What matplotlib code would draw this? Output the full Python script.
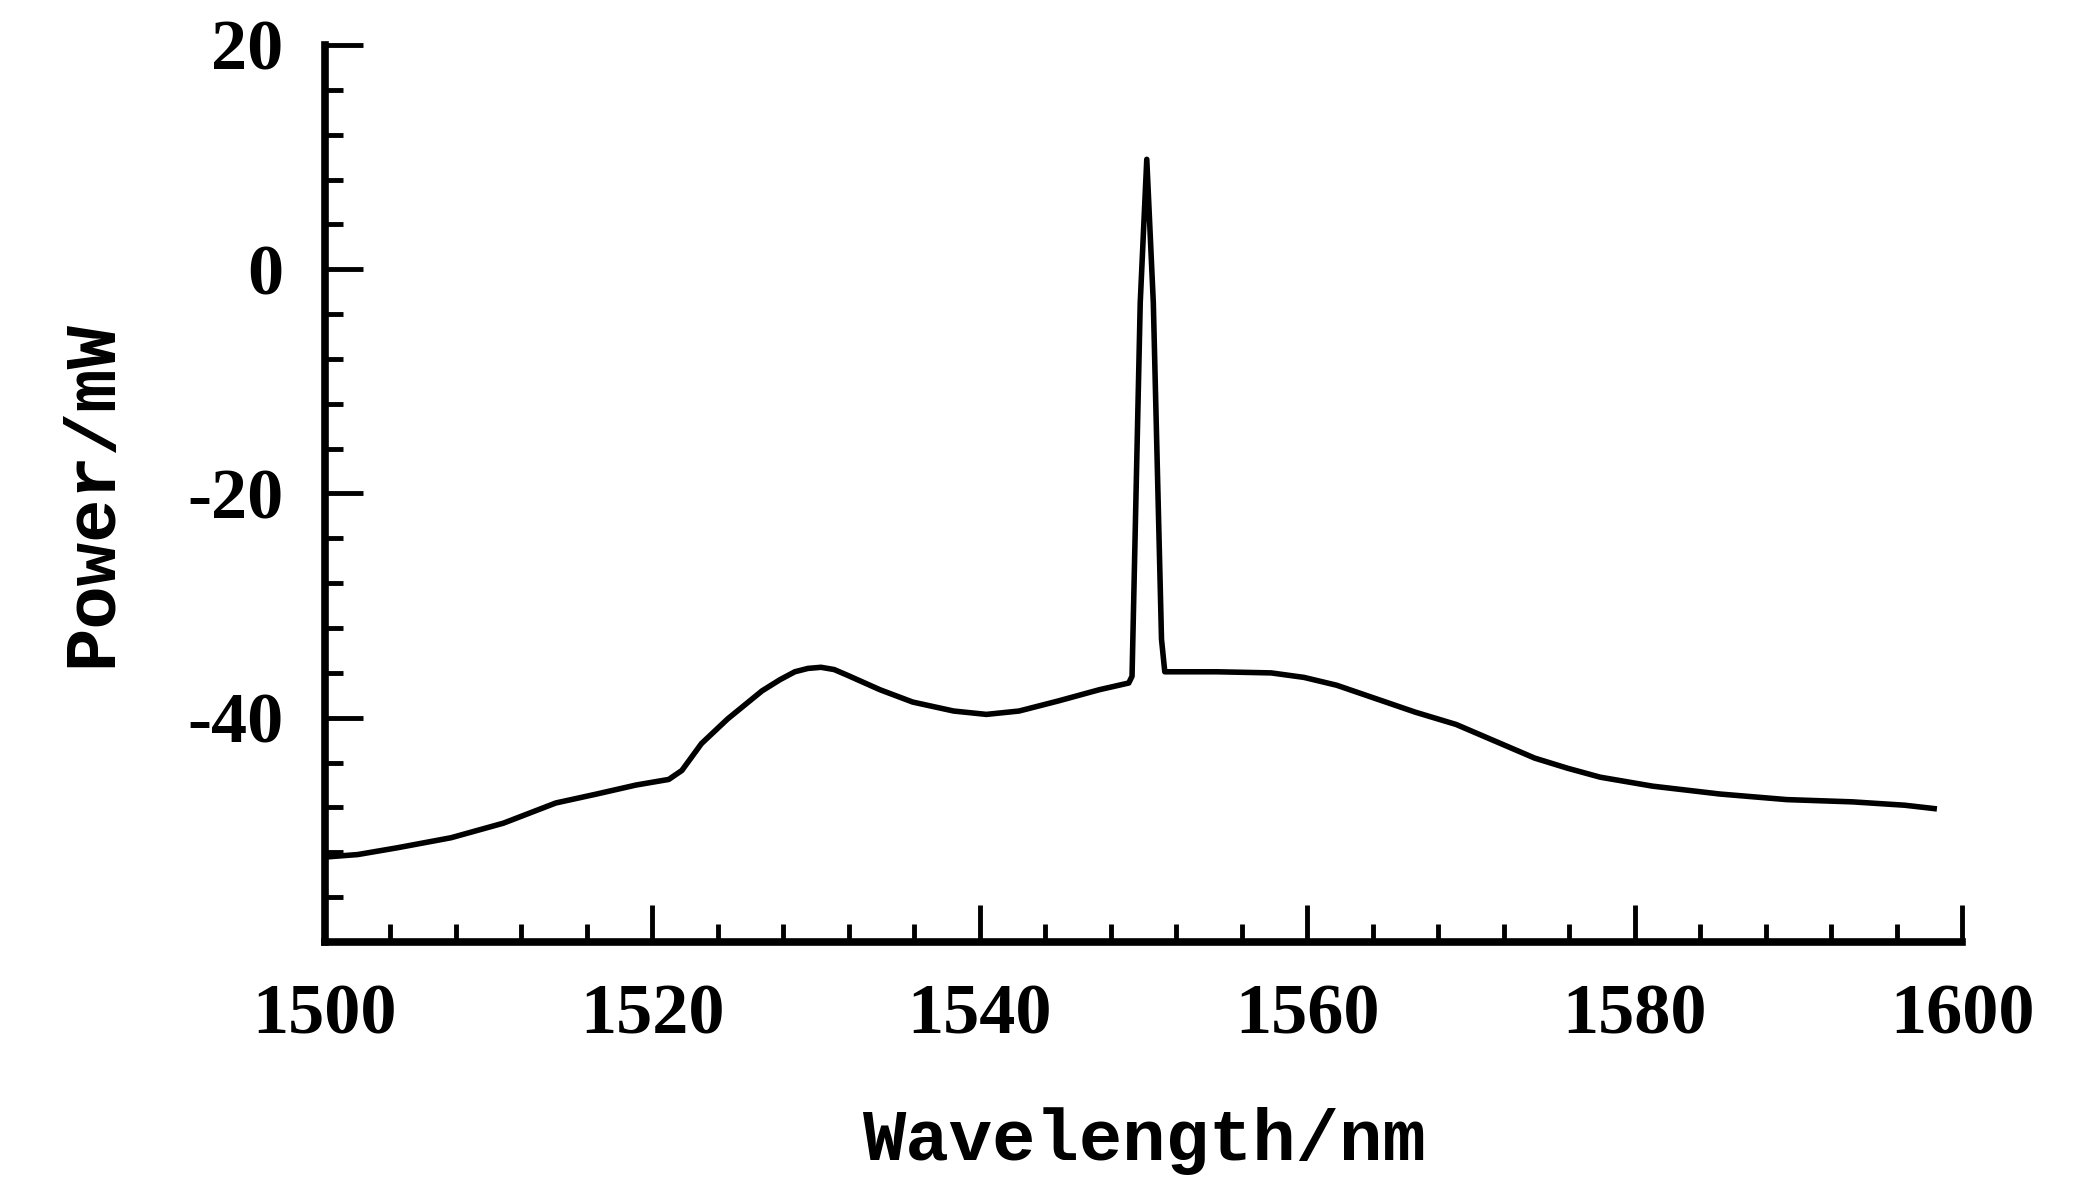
import numpy as np
import matplotlib.pyplot as plt
from matplotlib.ticker import MultipleLocator

# spectrum (wavelength in nm, power as labelled)
wavelength = [1500.2, 1502.0, 1504.4, 1507.7, 1510.9, 1514.1, 1516.6, 1519.0,
              1521.0, 1521.8, 1523.0, 1524.6, 1526.7, 1527.8, 1528.7, 1529.5,
              1530.3, 1531.1, 1531.9, 1533.9, 1535.9, 1538.4, 1540.4, 1542.4,
              1544.8, 1547.3, 1549.1, 1549.3, 1549.8, 1550.2, 1550.6, 1551.1,
              1551.3, 1554.5, 1557.8, 1559.8, 1561.8, 1564.2, 1566.6, 1569.1,
              1571.5, 1573.9, 1575.9, 1577.9, 1581.1, 1585.2, 1589.3, 1593.3,
              1596.5, 1598.3]
power = [-52.4, -52.2, -51.6, -50.7, -49.4, -47.6, -46.8, -46.0,
         -45.5, -44.7, -42.3, -40.1, -37.6, -36.6, -35.9, -35.6,
         -35.5, -35.7, -36.2, -37.5, -38.6, -39.4, -39.7, -39.4,
         -38.5, -37.5, -36.9, -36.3, -3.0, 9.8, -3.0, -33.0,
         -35.9, -35.9, -36.0, -36.4, -37.1, -38.3, -39.5, -40.6,
         -42.1, -43.6, -44.5, -45.3, -46.1, -46.8, -47.3, -47.5,
         -47.8, -48.1]

x_ticks = [1500, 1520, 1540, 1560, 1580, 1600]
y_ticks = [-40, -20, 0, 20]

plt.rcParams['axes.unicode_minus'] = False

fig = plt.figure(figsize=(20.74, 11.83), dpi=100)
ax = fig.add_axes([0.1567, 0.2037, 0.946 - 0.1567, 0.962 - 0.2037])

ax.plot(wavelength, power, color='black', linewidth=4)

ax.set_xlim(1500, 1600)
ax.set_ylim(-60, 20)
ax.set_xticks(x_ticks)
ax.set_yticks(y_ticks)
ax.xaxis.set_minor_locator(MultipleLocator(4))
ax.yaxis.set_minor_locator(MultipleLocator(4))

for s in ['top', 'right']:
    ax.spines[s].set_visible(False)
for s in ['left', 'bottom']:
    ax.spines[s].set_linewidth(5.5)

ax.tick_params(which='major', direction='in', length=27, width=3.5, pad=30)
ax.tick_params(which='minor', direction='in', length=13, width=3.5)

tick_font = dict(family='Liberation Serif', weight='bold', size=52)
for lab in ax.get_xticklabels() + ax.get_yticklabels():
    lab.set_fontfamily(tick_font['family'])
    lab.set_fontweight(tick_font['weight'])
    lab.set_fontsize(tick_font['size'])

label_font = dict(family='Liberation Mono', weight='bold', size=52)
ax.set_xlabel('Wavelength/nm', labelpad=42, **label_font)
ax.set_ylabel('Power/mW', labelpad=44, **label_font)

fig.savefig('out.png', dpi=100)
